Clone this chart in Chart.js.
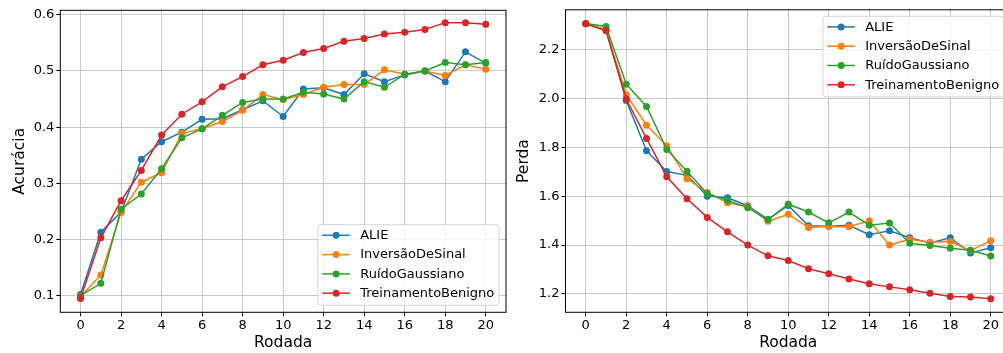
<!DOCTYPE html>
<html>
<head>
<meta charset="utf-8">
<script src="https://cdn.jsdelivr.net/npm/chart.js@4"></script>
<style>
    html, body { margin: 0; padding: 0; background: #fff; overflow: hidden; width: 1003px; height: 353px; }
    #acc { position: absolute; left: 0; top: 0; }
    #loss { position: absolute; left: 510px; top: 0; }
</style>
</head>
<body>
<canvas id="acc" width="516" height="353"></canvas>
<canvas id="loss" width="511" height="353"></canvas>
<script>
const rounds = [0, 1, 2, 3, 4, 5, 6, 7, 8, 9, 10, 11, 12, 13, 14, 15, 16, 17, 18, 19, 20];
const xTicks = [0, 2, 4, 6, 8, 10, 12, 14, 16, 18, 20];
const accTicks = [0.1, 0.2, 0.3, 0.4, 0.5, 0.6];
const lossTicks = [1.2, 1.4, 1.6, 1.8, 2.0, 2.2];
const seriesNames = ['ALIE', 'InversãoDeSinal', 'RuídoGaussiano', 'TreinamentoBenigno'];
const seriesColors = ['#1f77b4', '#ff7f0e', '#2ca02c', '#d62728'];

const accAlie     = [0.102, 0.213, 0.249, 0.343, 0.374, 0.391, 0.414, 0.415, 0.431, 0.447, 0.419, 0.468, 0.470, 0.458, 0.495, 0.481, 0.493, 0.500, 0.481, 0.534, 0.514];
const accInv      = [0.098, 0.137, 0.248, 0.302, 0.319, 0.389, 0.397, 0.410, 0.430, 0.458, 0.449, 0.458, 0.471, 0.476, 0.476, 0.502, 0.494, 0.500, 0.492, 0.511, 0.503];
const accRuido    = [0.100, 0.122, 0.254, 0.281, 0.326, 0.381, 0.397, 0.421, 0.444, 0.450, 0.450, 0.462, 0.459, 0.450, 0.481, 0.471, 0.494, 0.500, 0.515, 0.511, 0.515];
const accBenigno  = [0.095, 0.203, 0.269, 0.323, 0.386, 0.423, 0.445, 0.472, 0.490, 0.511, 0.519, 0.533, 0.540, 0.553, 0.558, 0.566, 0.569, 0.574, 0.586, 0.586, 0.583];

const lossAlie    = [2.305, 2.280, 1.991, 1.786, 1.701, 1.685, 1.600, 1.593, 1.561, 1.505, 1.562, 1.479, 1.477, 1.481, 1.442, 1.458, 1.430, 1.408, 1.430, 1.368, 1.389];
const lossInv     = [2.305, 2.280, 2.015, 1.890, 1.806, 1.671, 1.615, 1.573, 1.558, 1.497, 1.526, 1.472, 1.476, 1.475, 1.499, 1.400, 1.424, 1.411, 1.415, 1.377, 1.418];
const lossRuido   = [2.306, 2.294, 2.058, 1.967, 1.791, 1.702, 1.610, 1.582, 1.553, 1.503, 1.567, 1.535, 1.491, 1.535, 1.481, 1.490, 1.407, 1.398, 1.387, 1.379, 1.355];
const lossBenigno = [2.305, 2.276, 1.997, 1.836, 1.679, 1.589, 1.513, 1.454, 1.400, 1.356, 1.337, 1.303, 1.283, 1.261, 1.242, 1.229, 1.217, 1.203, 1.190, 1.188, 1.180];

Chart.defaults.font.family = '"DejaVu Sans", sans-serif';
Chart.defaults.color = '#000';

// frame + matplotlib-style legend inside the axes
const boxLegend = {
    id: 'boxLegend',
    afterDatasetsDraw(chart, args, opts) {
        const ctx = chart.ctx, a = chart.chartArea;
        ctx.save();
        ctx.strokeStyle = '#000';
        ctx.lineWidth = 1;
        ctx.strokeRect(a.left, a.top, a.right - a.left, a.bottom - a.top);

        ctx.font = '13px "DejaVu Sans"';
        const sets = chart.data.datasets;
        const tw = Math.max(...sets.map(d => ctx.measureText(d.label).width));
        const w = 47 + tw, h = 80.6;
        const x = a.right - 7 - w;
        const y = opts.loc === 'upper' ? a.top + 6.5 : a.bottom - 7 - h;

        ctx.beginPath();
        ctx.roundRect(x, y, w, h, 3);
        ctx.fillStyle = 'rgba(255,255,255,0.8)';
        ctx.fill();
        ctx.strokeStyle = '#d4d4d4';
        ctx.stroke();

        sets.forEach((d, i) => {
            const ly = y + 10.6 + i * 19.3;
            ctx.strokeStyle = d.borderColor;
            ctx.lineWidth = 1.5;
            ctx.beginPath();
            ctx.moveTo(x + 4.3, ly);
            ctx.lineTo(x + 32, ly);
            ctx.stroke();
            ctx.fillStyle = d.borderColor;
            ctx.beginPath();
            ctx.arc(x + 18.2, ly, 3.5, 0, Math.PI * 2);
            ctx.fill();
            ctx.fillStyle = '#000';
            ctx.textBaseline = 'middle';
            ctx.textAlign = 'left';
            ctx.fillText(d.label, x + 42.3, ly + 0.5);
        });
        ctx.restore();
    }
};

function makeSets(series) {
    return series.map((vals, i) => ({
        label: seriesNames[i],
        data: rounds.map((r, j) => ({ x: r, y: vals[j] })),
        borderColor: seriesColors[i],
        backgroundColor: seriesColors[i],
        borderWidth: 1.5,
        pointRadius: 3.5,
        pointBorderWidth: 0,
        pointBackgroundColor: seriesColors[i],
        order: series.length - i
    }));
}

function makeChart(id, series, yTicks, yMin, yMax, yTitle, yWidth, yTitlePad, padTop, legendLoc) {
    const ctx = document.getElementById(id).getContext('2d');
    return new Chart(ctx, {
        type: 'line',
        data: { datasets: makeSets(series) },
        plugins: [boxLegend],
        options: {
            animation: false,
            responsive: false,
            layout: { padding: { left: 0, top: padTop, right: 10, bottom: 0 } },
            plugins: {
                legend: { display: false },
                tooltip: { enabled: false },
                boxLegend: { loc: legendLoc }
            },
            scales: {
                x: {
                    type: 'linear',
                    min: -1,
                    max: 21,
                    afterBuildTicks: s => { s.ticks = xTicks.map(v => ({ value: v })); },
                    afterFit: s => { s.height = 40.7; },
                    grid: { color: '#c8c8c8', lineWidth: 1, tickColor: '#000', tickLength: 4, drawTicks: true },
                    border: { display: false },
                    ticks: { font: { size: 13 }, padding: 2, maxRotation: 0 },
                    title: { display: true, text: 'Rodada', font: { size: 15.5 }, padding: { top: 0, bottom: 0.7 } }
                },
                y: {
                    min: yMin,
                    max: yMax,
                    afterBuildTicks: s => { s.ticks = yTicks.map(v => ({ value: v })); },
                    afterFit: s => { s.width = yWidth; },
                    grid: { color: '#c8c8c8', lineWidth: 1, tickColor: '#000', tickLength: 4, drawTicks: true },
                    border: { display: false },
                    ticks: { font: { size: 13 }, padding: 2, callback: v => v.toFixed(1) },
                    title: { display: true, text: yTitle, font: { size: 15.5 }, padding: { top: yTitlePad, bottom: 0 } }
                }
            }
        }
    });
}

makeChart('acc', [accAlie, accInv, accRuido, accBenigno], accTicks, 0.0704, 0.608, 'Acurácia', 60.3, 10.7, 10.3, 'lower');
makeChart('loss', [lossAlie, lossInv, lossRuido, lossBenigno], lossTicks, 1.125, 2.362, 'Perda', 55.5, 4.2, 9.3, 'upper');
</script>
</body>
</html>
